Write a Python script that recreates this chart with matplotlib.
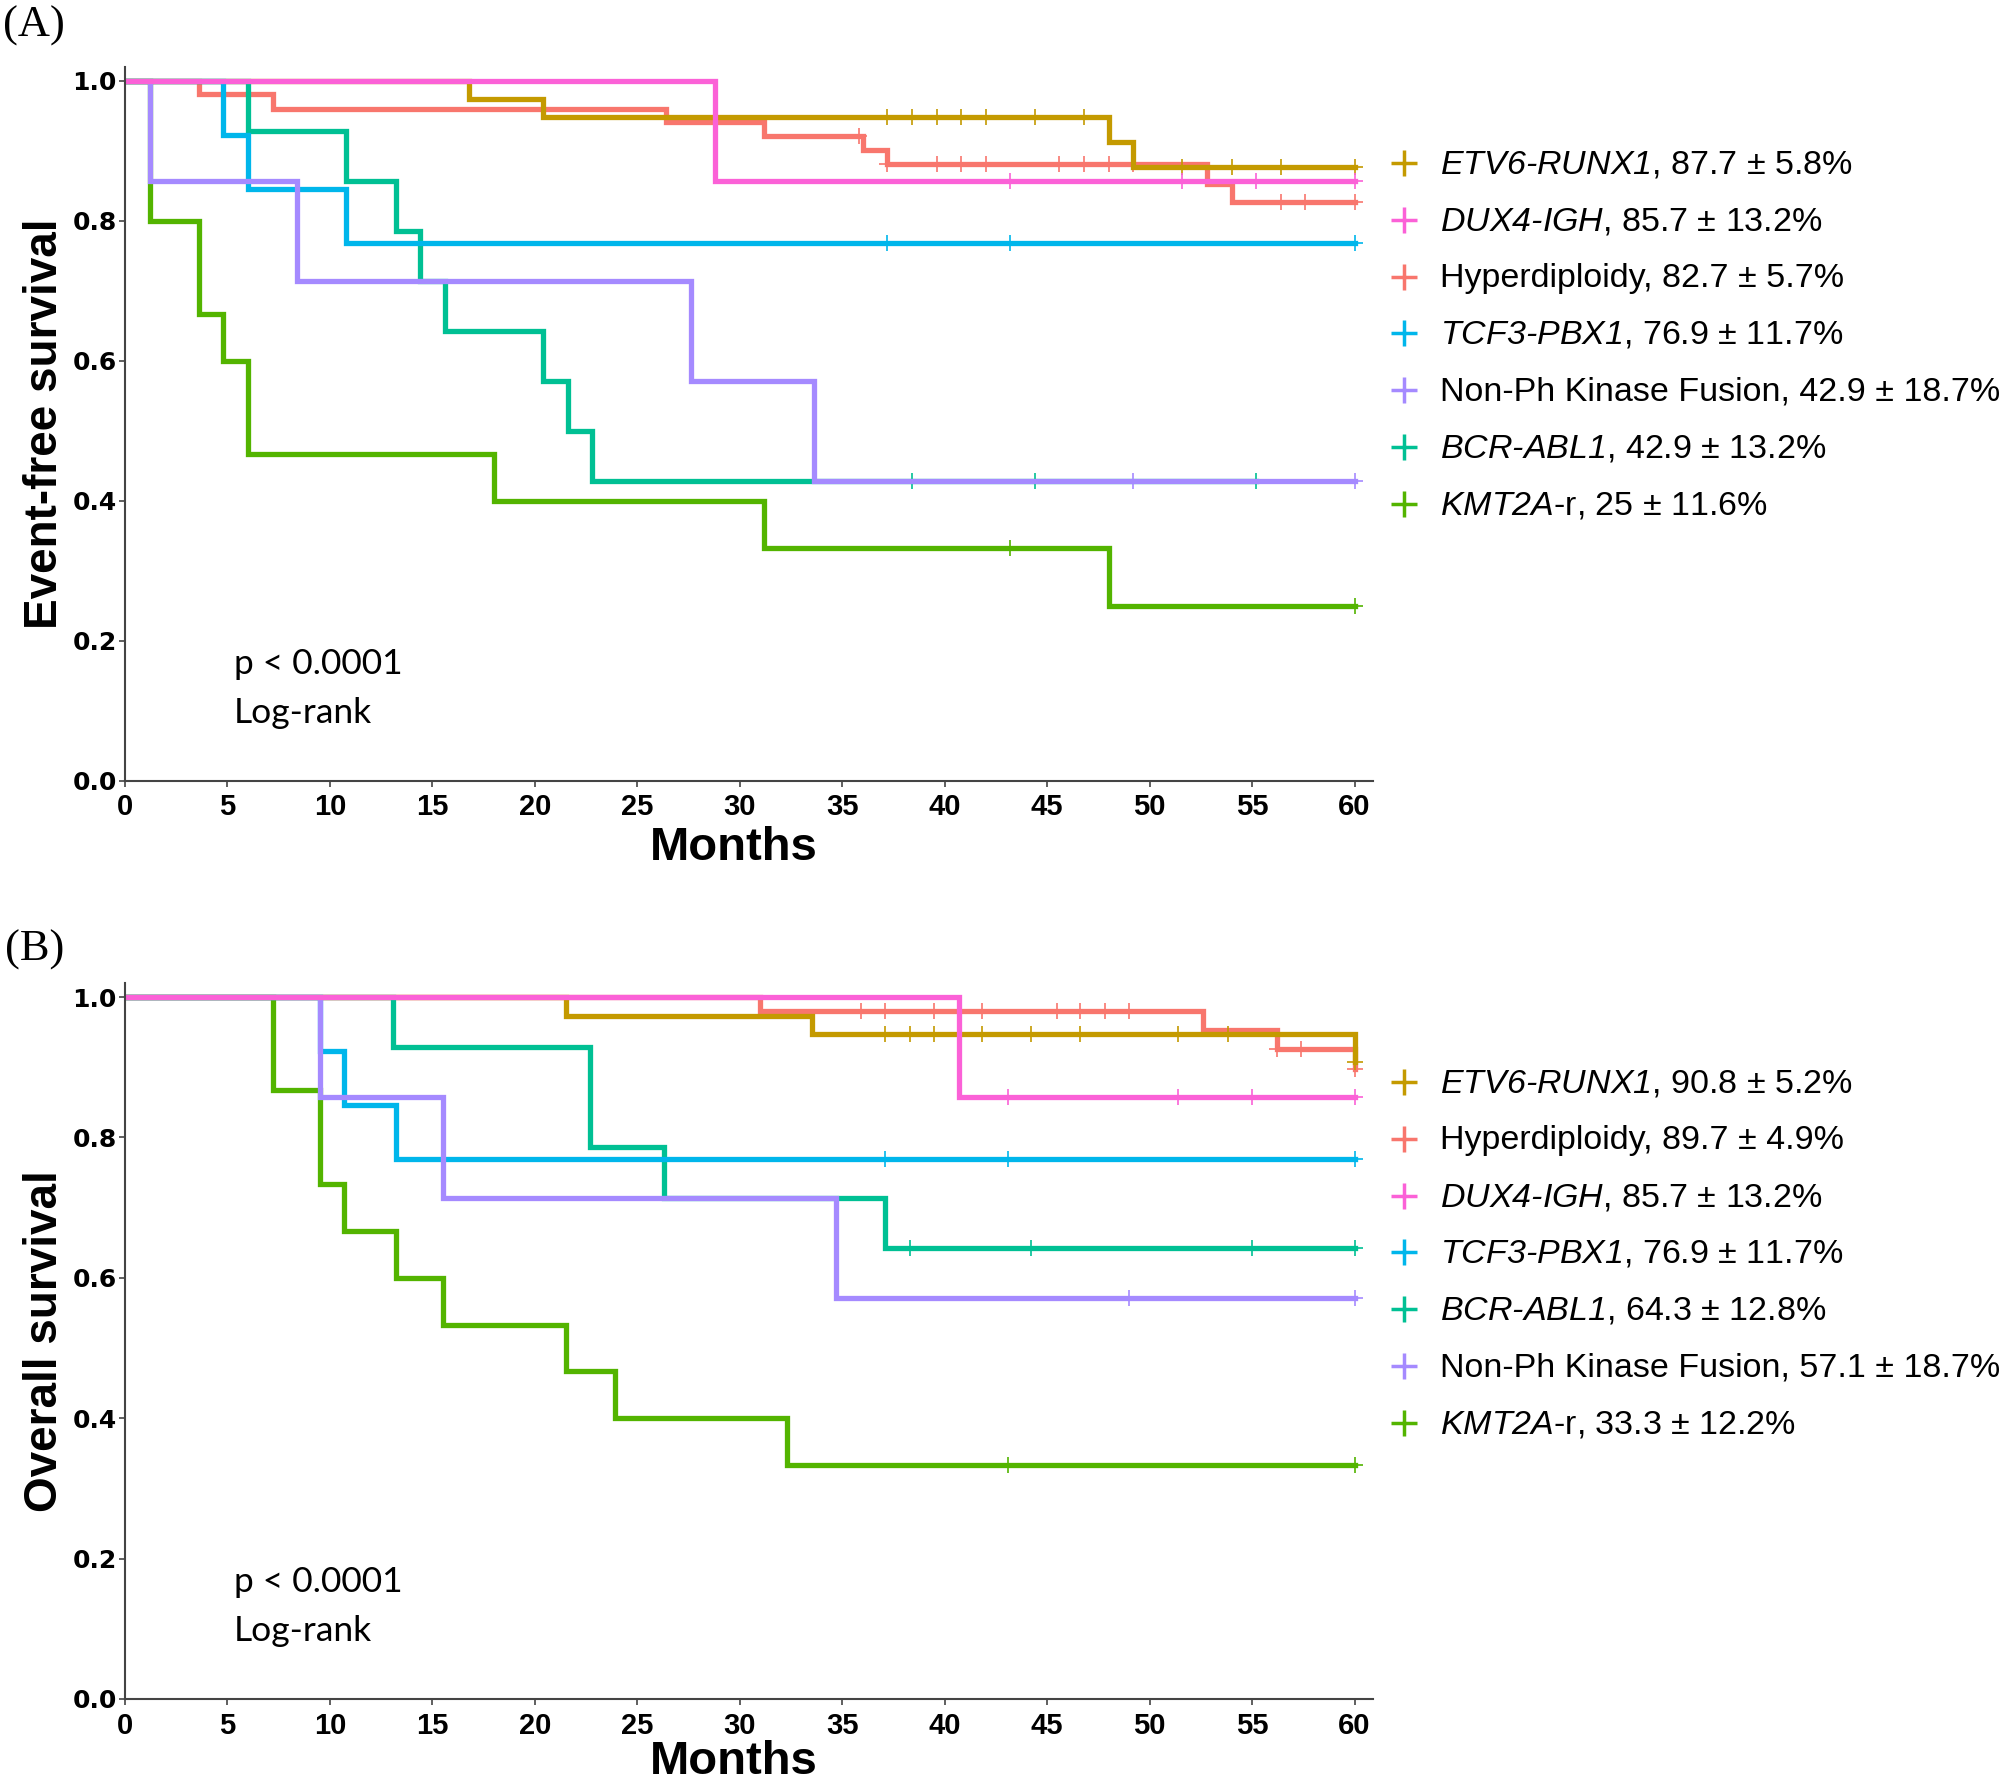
import numpy as np
import matplotlib
matplotlib.use("Agg")
import matplotlib.pyplot as plt
from matplotlib.lines import Line2D

plt.rcParams["font.family"] = ["Liberation Sans", "DejaVu Sans"]
plt.rcParams["mathtext.fontset"] = "custom"
# gene names are fully italic (digits and hyphen too), so both math fonts are italic
plt.rcParams["mathtext.rm"] = "Liberation Sans:italic"
plt.rcParams["mathtext.it"] = "Liberation Sans:italic"

W, H = 2007, 1784

# ggplot hue colours, in factor order
groups = ["Hyperdiploidy", "ETV6-RUNX1", "KMT2A-r", "BCR-ABL1", "TCF3-PBX1", "Non-Ph", "DUX4-IGH"]
colors = ["#F8766D", "#C49A00", "#53B400", "#00C094", "#00B6EB", "#A58AFF", "#FB61D7"]

# ---- (A) event-free survival: step times, survival, censor times ----
efs_hyper_t = [0, 3.6, 7.2, 26.4, 31.2, 36.0, 37.2, 52.8, 54.0, 60]
efs_hyper_s = [1, 0.981, 0.960, 0.941, 0.921, 0.902, 0.881, 0.853, 0.827, 0.827]
efs_hyper_c = [35.8, 37.2, 39.6, 40.8, 42.0, 45.6, 46.8, 48.0, 49.2, 56.4, 57.6, 60]

efs_etv6_t = [0, 16.8, 20.4, 48.0, 49.2, 60]
efs_etv6_s = [1, 0.974, 0.948, 0.913, 0.877, 0.877]
efs_etv6_c = [37.2, 38.4, 39.6, 40.8, 42.0, 44.4, 46.8, 51.6, 54.0, 56.4, 60]

efs_kmt2a_t = [0, 1.2, 3.6, 4.8, 6.0, 18.0, 31.2, 48.0, 60]
efs_kmt2a_s = [1, 0.8, 0.667, 0.6, 0.467, 0.4, 0.333, 0.25, 0.25]
efs_kmt2a_c = [43.2, 60]

efs_bcr_t = [0, 6.0, 10.8, 13.2, 14.4, 15.6, 20.4, 21.6, 22.8, 55.2]
efs_bcr_s = [1, 0.929, 0.857, 0.786, 0.714, 0.643, 0.571, 0.5, 0.429, 0.429]
efs_bcr_c = [38.4, 44.4, 55.2]

efs_tcf3_t = [0, 4.8, 6.0, 10.8, 60]
efs_tcf3_s = [1, 0.923, 0.846, 0.769, 0.769]
efs_tcf3_c = [37.2, 43.2, 60]

efs_nonph_t = [0, 1.2, 8.4, 27.6, 33.6, 60]
efs_nonph_s = [1, 0.857, 0.714, 0.571, 0.429, 0.429]
efs_nonph_c = [49.2, 60]

efs_dux4_t = [0, 28.8, 60]
efs_dux4_s = [1, 0.857, 0.857]
efs_dux4_c = [43.2, 51.6, 55.2, 60]

efs_legend_groups = ["ETV6-RUNX1", "DUX4-IGH", "Hyperdiploidy", "TCF3-PBX1", "Non-Ph", "BCR-ABL1", "KMT2A-r"]
efs_legend_labels = [
    r"$ETV6‐RUNX1$, 87.7 ± 5.8%",
    r"$DUX4‐IGH$, 85.7 ± 13.2%",
    "Hyperdiploidy, 82.7 ± 5.7%",
    r"$TCF3‐PBX1$, 76.9 ± 11.7%",
    "Non-Ph Kinase Fusion, 42.9 ± 18.7%",
    r"$BCR‐ABL1$, 42.9 ± 13.2%",
    r"$KMT2A$-r, 25 ± 11.6%",
]

# ---- (B) overall survival ----
os_hyper_t = [0, 31.0, 52.6, 56.2, 60]
os_hyper_s = [1, 0.980, 0.953, 0.926, 0.897]
os_hyper_c = [35.9, 37.1, 39.5, 40.7, 41.8, 45.5, 46.6, 47.8, 49.0, 56.2, 57.4, 60]

os_etv6_t = [0, 21.5, 33.5, 60]
os_etv6_s = [1, 0.973, 0.947, 0.908]
os_etv6_c = [37.1, 38.3, 39.5, 40.7, 41.8, 44.2, 46.6, 51.4, 53.8, 60]

os_kmt2a_t = [0, 7.2, 9.5, 10.7, 13.2, 15.5, 21.5, 23.9, 32.3, 60]
os_kmt2a_s = [1, 0.867, 0.733, 0.667, 0.6, 0.533, 0.467, 0.4, 0.333, 0.333]
os_kmt2a_c = [43.1, 60]

os_bcr_t = [0, 13.1, 22.7, 26.3, 37.1, 60]
os_bcr_s = [1, 0.929, 0.786, 0.714, 0.643, 0.643]
os_bcr_c = [38.3, 44.2, 55.0, 60]

os_tcf3_t = [0, 9.5, 10.7, 13.2, 60]
os_tcf3_s = [1, 0.923, 0.846, 0.769, 0.769]
os_tcf3_c = [37.1, 43.1, 60]

os_nonph_t = [0, 9.5, 15.5, 34.7, 60]
os_nonph_s = [1, 0.857, 0.714, 0.571, 0.571]
os_nonph_c = [49.0, 60]

os_dux4_t = [0, 40.7, 60]
os_dux4_s = [1, 0.857, 0.857]
os_dux4_c = [43.1, 51.4, 55.0, 60]

os_legend_groups = ["ETV6-RUNX1", "Hyperdiploidy", "DUX4-IGH", "TCF3-PBX1", "BCR-ABL1", "Non-Ph", "KMT2A-r"]
os_legend_labels = [
    r"$ETV6‐RUNX1$, 90.8 ± 5.2%",
    "Hyperdiploidy, 89.7 ± 4.9%",
    r"$DUX4‐IGH$, 85.7 ± 13.2%",
    r"$TCF3‐PBX1$, 76.9 ± 11.7%",
    r"$BCR‐ABL1$, 64.3 ± 12.8%",
    "Non-Ph Kinase Fusion, 57.1 ± 18.7%",
    r"$KMT2A$-r, 33.3 ± 12.2%",
]

efs_curves = [
    (efs_hyper_t, efs_hyper_s, efs_hyper_c),
    (efs_etv6_t, efs_etv6_s, efs_etv6_c),
    (efs_kmt2a_t, efs_kmt2a_s, efs_kmt2a_c),
    (efs_bcr_t, efs_bcr_s, efs_bcr_c),
    (efs_tcf3_t, efs_tcf3_s, efs_tcf3_c),
    (efs_nonph_t, efs_nonph_s, efs_nonph_c),
    (efs_dux4_t, efs_dux4_s, efs_dux4_c),
]
os_curves = [
    (os_hyper_t, os_hyper_s, os_hyper_c),
    (os_etv6_t, os_etv6_s, os_etv6_c),
    (os_kmt2a_t, os_kmt2a_s, os_kmt2a_c),
    (os_bcr_t, os_bcr_s, os_bcr_c),
    (os_tcf3_t, os_tcf3_s, os_tcf3_c),
    (os_nonph_t, os_nonph_s, os_nonph_c),
    (os_dux4_t, os_dux4_s, os_dux4_c),
]

color_of = dict(zip(groups, colors))


def draw_panel(ax, curves, ylabel, xlab_y):
    for (t, s, c), col in zip(curves, colors):
        t = np.asarray(t, float)
        s = np.asarray(s, float)
        ax.step(t, s, where="post", color=col, lw=3.8, solid_joinstyle="miter")
        c = np.asarray(c, float)
        idx = np.searchsorted(t, c, side="right") - 1
        ax.plot(c, s[idx], linestyle="none", marker="+", ms=11, mew=1.2, color=col)

    ax.set_xlim(0, 60.9)
    ax.set_ylim(0, 1.02)
    ax.set_xticks(np.arange(0, 61, 5))
    ax.set_yticks([0, 0.2, 0.4, 0.6, 0.8, 1.0])
    ax.set_yticklabels(["0.0", "0.2", "0.4", "0.6", "0.8", "1.0"])
    for side in ["top", "right"]:
        ax.spines[side].set_visible(False)
    for side in ["left", "bottom"]:
        ax.spines[side].set_color("#444444")
        ax.spines[side].set_linewidth(1.5)
    ax.tick_params(direction="out", length=4, width=1.2, color="#444444")
    ax.tick_params(axis="x", pad=5)
    ax.tick_params(axis="y", pad=2)
    for lab in ax.get_xticklabels():
        lab.set_fontsize(21)
        lab.set_fontweight("bold")
    for lab in ax.get_yticklabels():
        lab.set_fontsize(18)
        lab.set_fontweight("bold")
        lab.set_family("DejaVu Sans")

    ax.set_xlabel("Months", fontsize=34, fontweight="bold", va="center")
    ax.xaxis.set_label_coords(0.488, xlab_y)
    ax.set_ylabel(ylabel, fontsize=33, fontweight="bold", va="center")
    ax.yaxis.set_label_coords(-0.064, 0.5)

    ax.text(5.3, 0.167, "p < 0.0001", fontsize=25.5, family="Lato", va="center")
    ax.text(5.3, 0.097, "Log-rank", fontsize=25.5, family="Lato", va="center")


def draw_legend(fig, legend_groups, labels, y0):
    for i, (g, lab) in enumerate(zip(legend_groups, labels)):
        yc = y0 + i * 56.8
        fig.add_artist(Line2D([1404 / W], [1 - yc / H], transform=fig.transFigure,
                              marker="+", ms=19, mew=2.5, color=color_of[g], linestyle="none"))
        fig.text(1440 / W, 1 - (yc + 10.5) / H, lab, fontsize=24.5, va="baseline", ha="left")


fig = plt.figure(figsize=(W / 100, H / 100), dpi=100)
ax_a = fig.add_axes([125 / W, 1 - 781 / H, 1248 / W, 714 / H])
ax_b = fig.add_axes([125 / W, 1 - 1699 / H, 1248 / W, 716 / H])

draw_panel(ax_a, efs_curves, "Event-free survival", -0.094)
draw_panel(ax_b, os_curves, "Overall survival", -0.088)
draw_legend(fig, efs_legend_groups, efs_legend_labels, 163)
draw_legend(fig, os_legend_groups, os_legend_labels, 1082)

fig.text(3 / W, 1 - 6 / H, "(A)", fontsize=32, family="Liberation Serif", va="top", ha="left")
fig.text(5 / W, 1 - 930 / H, "(B)", fontsize=32, family="Liberation Serif", va="top", ha="left")

fig.savefig("out.png", dpi=100, facecolor="white")
